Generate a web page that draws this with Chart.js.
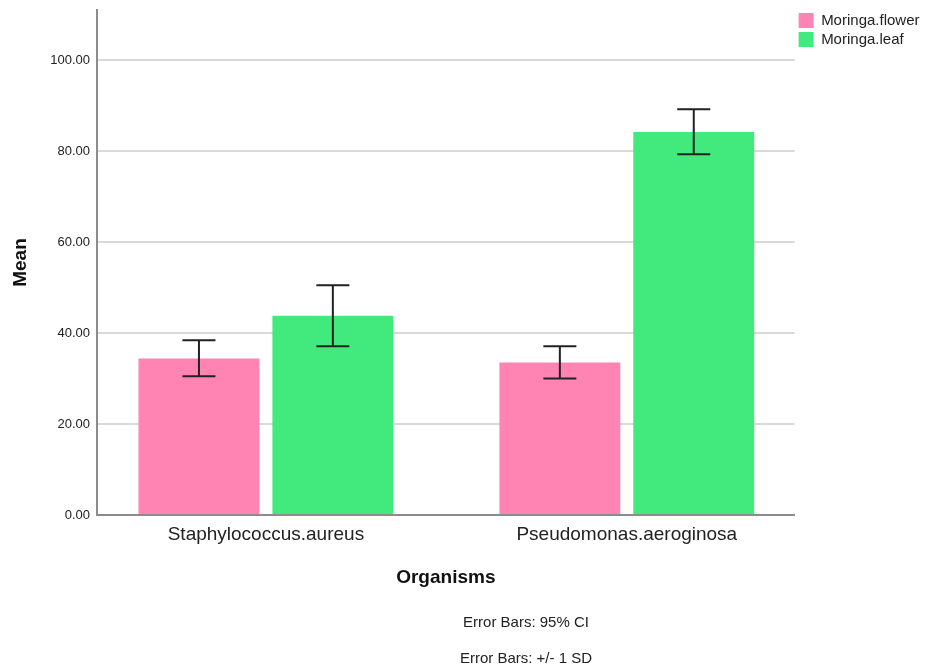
<!DOCTYPE html>
<html>
<head>
<meta charset="utf-8">
<script src="https://cdn.jsdelivr.net/npm/chart.js@4/dist/chart.umd.min.js"></script>
<style>
    body { margin: 0; background: #fff; font-family: "Liberation Sans", Arial, sans-serif; }
    #wrap { position: relative; width: 925px; height: 671px; }
    .note { position: absolute; transform: translate(-50%, -50%); font-size: 15px; color: #222; white-space: nowrap; }
</style>
</head>
<body>
<div id="wrap">
    <canvas id="chart"></canvas>
    <div class="note" style="left:526px; top:621px">Error Bars: 95% CI</div>
    <div class="note" style="left:526px; top:657px">Error Bars: +/- 1 SD</div>
</div>
<script>
// data
const organisms = ['Staphylococcus.aureus', 'Pseudomonas.aeroginosa'];
const seriesNames = ['Moringa.flower', 'Moringa.leaf'];
const flowerMean = [34.4, 33.5];
const flowerLow = [30.5, 30.0];
const flowerHigh = [38.4, 37.1];
const leafMean = [43.8, 84.2];
const leafLow = [37.1, 79.3];
const leafHigh = [50.5, 89.2];
const yTicks = [0, 20, 40, 60, 80, 100];

const colors = ['#FF84B4', '#42EA7E'];
const font = '"Liberation Sans", Arial, sans-serif';

const errorBars = {
    id: 'errorBars',
    afterDatasetsDraw (chart) {
        const ctx = chart.ctx;
        const y = chart.scales.y;
        ctx.save();
        ctx.strokeStyle = '#222';
        ctx.lineWidth = 2;
        chart.data.datasets.forEach((ds, i) => {
            chart.getDatasetMeta(i).data.forEach((bar, j) => {
                const top = y.getPixelForValue(ds.high[j]);
                const bottom = y.getPixelForValue(ds.low[j]);
                const half = 16.5;
                ctx.beginPath();
                ctx.moveTo(bar.x, top);
                ctx.lineTo(bar.x, bottom);
                ctx.moveTo(bar.x - half, top);
                ctx.lineTo(bar.x + half, top);
                ctx.moveTo(bar.x - half, bottom);
                ctx.lineTo(bar.x + half, bottom);
                ctx.stroke();
            });
        });
        ctx.restore();
    }
};

const toPoints = values => values.map((v, i) => ({ x: i, y: v }));

new Chart(document.getElementById('chart'), {
    type: 'bar',
    data: {
        datasets: [
            { label: seriesNames[0], data: toPoints(flowerMean), low: flowerLow, high: flowerHigh, backgroundColor: colors[0] },
            { label: seriesNames[1], data: toPoints(leafMean), low: leafLow, high: leafHigh, backgroundColor: colors[1] }
        ]
    },
    options: {
        responsive: true,
        maintainAspectRatio: false,
        animation: false,
        categoryPercentage: 0.742,
        barPercentage: 0.903,
        layout: { padding: { top: 9, left: 0, right: -4.5, bottom: 76 } },
        plugins: {
            tooltip: { enabled: false },
            legend: {
                position: 'right',
                align: 'start',
                labels: {
                    boxWidth: 15,
                    boxHeight: 15,
                    padding: 4,
                    color: '#222',
                    font: { family: font, size: 15 }
                }
            }
        },
        scales: {
            x: {
                type: 'linear',
                offset: false,
                min: -0.468,
                max: 1.465,
                afterBuildTicks: scale => { scale.ticks = organisms.map((o, i) => ({ value: i })); },
                afterFit: scale => { scale.height = 80; },
                grid: { display: false, drawTicks: false },
                border: { color: '#8c8c8c', width: 2 },
                ticks: {
                    padding: 8,
                    maxRotation: 0,
                    autoSkip: false,
                    color: '#222',
                    font: { family: font, size: 19 },
                    callback: v => organisms[v]
                },
                title: {
                    display: true,
                    text: 'Organisms',
                    color: '#111',
                    padding: { top: 0, bottom: 6 },
                    font: { family: font, size: 19, weight: 'bold' }
                }
            },
            y: {
                min: 0,
                max: 111,
                afterBuildTicks: scale => { scale.ticks = yTicks.map(v => ({ value: v })); },
                afterFit: scale => {
                    scale.width = 97;
                    scale.paddingTop = 10;
                },
                grid: { color: '#d9d9d9', lineWidth: 2, drawTicks: false },
                border: { color: '#8c8c8c', width: 2 },
                ticks: {
                    padding: 7,
                    color: '#222',
                    font: { family: font, size: 13 },
                    callback: v => v.toFixed(2)
                },
                title: {
                    display: true,
                    text: 'Mean',
                    color: '#111',
                    padding: { top: 9 },
                    font: { family: font, size: 19, weight: 'bold' }
                }
            }
        }
    },
    plugins: [errorBars]
});
</script>
</body>
</html>
